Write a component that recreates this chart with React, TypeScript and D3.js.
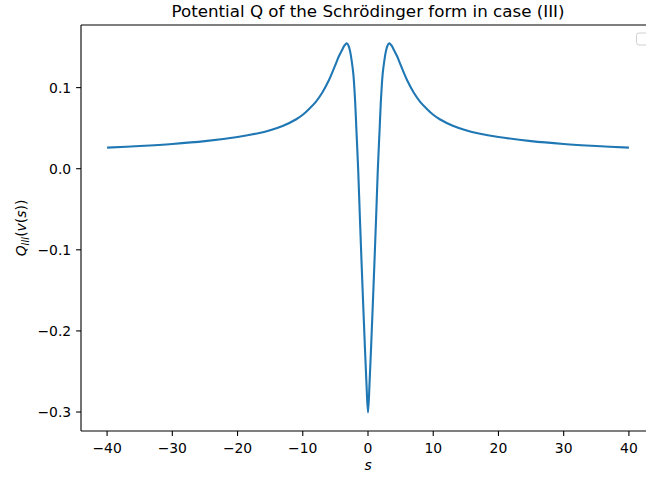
import React from "react";
import * as d3 from "d3";

const sValues = [
  -40, -35, -30, -25, -20, -17, -15, -13, -11, -10, -9, -8, -7, -6, -5, -4.5, -4, -3.6, -3.25, -3.0, -2.75, -2.5,
  -2.25, -2.0, -1.75, -1.5, -1.25, -1.0, -0.75, -0.5, -0.25, 0, 0.25, 0.5, 0.75, 1.0, 1.25, 1.5, 1.75, 2.0, 2.25,
  2.5, 2.75, 3.0, 3.25, 3.6, 4, 4.5, 5, 6, 7, 8, 9, 10, 11, 13, 15, 17, 20, 25, 30, 35, 40,
];
const qValues = [
  0.026, 0.028, 0.0305, 0.034, 0.0392, 0.0435, 0.0475, 0.053, 0.061, 0.0665, 0.074, 0.0825, 0.094, 0.109, 0.128,
  0.138, 0.146, 0.152, 0.1545, 0.152, 0.145, 0.133, 0.117, 0.087, 0.043, -0.002, -0.059, -0.113, -0.165, -0.215,
  -0.262, -0.3005, -0.262, -0.215, -0.165, -0.113, -0.059, -0.002, 0.043, 0.087, 0.117, 0.133, 0.145, 0.152, 0.1545,
  0.152, 0.146, 0.138, 0.128, 0.109, 0.094, 0.0825, 0.074, 0.0665, 0.061, 0.053, 0.0475, 0.0435, 0.0392, 0.034,
  0.0305, 0.028, 0.026,
];
const xTicks = [-40, -30, -20, -10, 0, 10, 20, 30, 40];
const yTicks = [0.1, 0.0, -0.1, -0.2, -0.3];
const titleText = "Potential Q of the Schrödinger form in case (III)";

const W = 646;
const H = 477;
const left = 81;
const right = 655;
const top = 25;
const bottom = 431;

export default function App() {
  const x = d3.scaleLinear().domain([-44, 44]).range([left, right]);
  const y = d3.scaleLinear().domain([-0.3234, 0.1772]).range([bottom, top]);
  const data = sValues.map((s, i) => [s, qValues[i]] as [number, number]);
  const line = d3
    .line<[number, number]>()
    .x((d) => x(d[0]))
    .y((d) => y(d[1]))
    .curve(d3.curveCatmullRom.alpha(0.5));
  const fmtY = (v: number) => (v < 0 ? "\u2212" : "") + Math.abs(v).toFixed(1);
  const fmtX = (v: number) => (v < 0 ? "\u2212" : "") + Math.abs(v);
  const font = "DejaVu Sans, sans-serif";
  const tl = 4.9;
  return (
    <svg
      width={W}
      height={H}
      style={{ position: "absolute", left: 0, top: 0, background: "#fff" }}
      fontFamily={font}
    >
      <rect x={0} y={0} width={W} height={H} fill="#fff" />
      <path d={line(data) || ""} fill="none" stroke="#1f77b4" strokeWidth={2.1} strokeLinejoin="round" />
      {/* spines */}
      <line x1={left} x2={left} y1={top} y2={bottom} stroke="#000" strokeWidth={1.1} />
      <line x1={left} x2={right} y1={bottom} y2={bottom} stroke="#000" strokeWidth={1.1} />
      <line x1={left} x2={right} y1={top} y2={top} stroke="#000" strokeWidth={1.1} />
      <line x1={right} x2={right} y1={top} y2={bottom} stroke="#000" strokeWidth={1.1} />
      {xTicks.map((t) => (
        <g key={"x" + t}>
          <line x1={x(t)} x2={x(t)} y1={bottom} y2={bottom + tl} stroke="#000" strokeWidth={1.1} />
          <text x={x(t)} y={bottom + 22} textAnchor="middle" fontSize={13.9} fill="#000">
            {fmtX(t)}
          </text>
        </g>
      ))}
      {yTicks.map((t) => (
        <g key={"y" + t}>
          <line x1={left} x2={left - tl} y1={y(t)} y2={y(t)} stroke="#000" strokeWidth={1.1} />
          <text x={left - tl - 4.9} y={y(t)} dy="0.36em" textAnchor="end" fontSize={13.9} fill="#000">
            {fmtY(t)}
          </text>
        </g>
      ))}
      <text x={(left + right) / 2} y={17} textAnchor="middle" fontSize={16.7} fill="#000">
        {titleText}
      </text>
      <text x={(left + right) / 2} y={470} textAnchor="middle" fontSize={13.9} fontStyle="italic" fill="#000">
        s
      </text>
      <text transform={`translate(26, ${(top + bottom) / 2}) rotate(-90)`} textAnchor="middle" fontSize={13.9} fill="#000">
        <tspan fontStyle="italic">Q</tspan>
        <tspan fontStyle="italic" fontSize={9.7} dy={3}>
          III
        </tspan>
        <tspan dy={-3}>(</tspan>
        <tspan fontStyle="italic">v</tspan>
        <tspan>(</tspan>
        <tspan fontStyle="italic">s</tspan>
        <tspan>))</tspan>
      </text>
      <rect x={636.5} y={33} width={24} height={12} rx={2.5} fill="#fff" fillOpacity={0.8} stroke="#d0d0d0" strokeWidth={1} />
    </svg>
  );
}
